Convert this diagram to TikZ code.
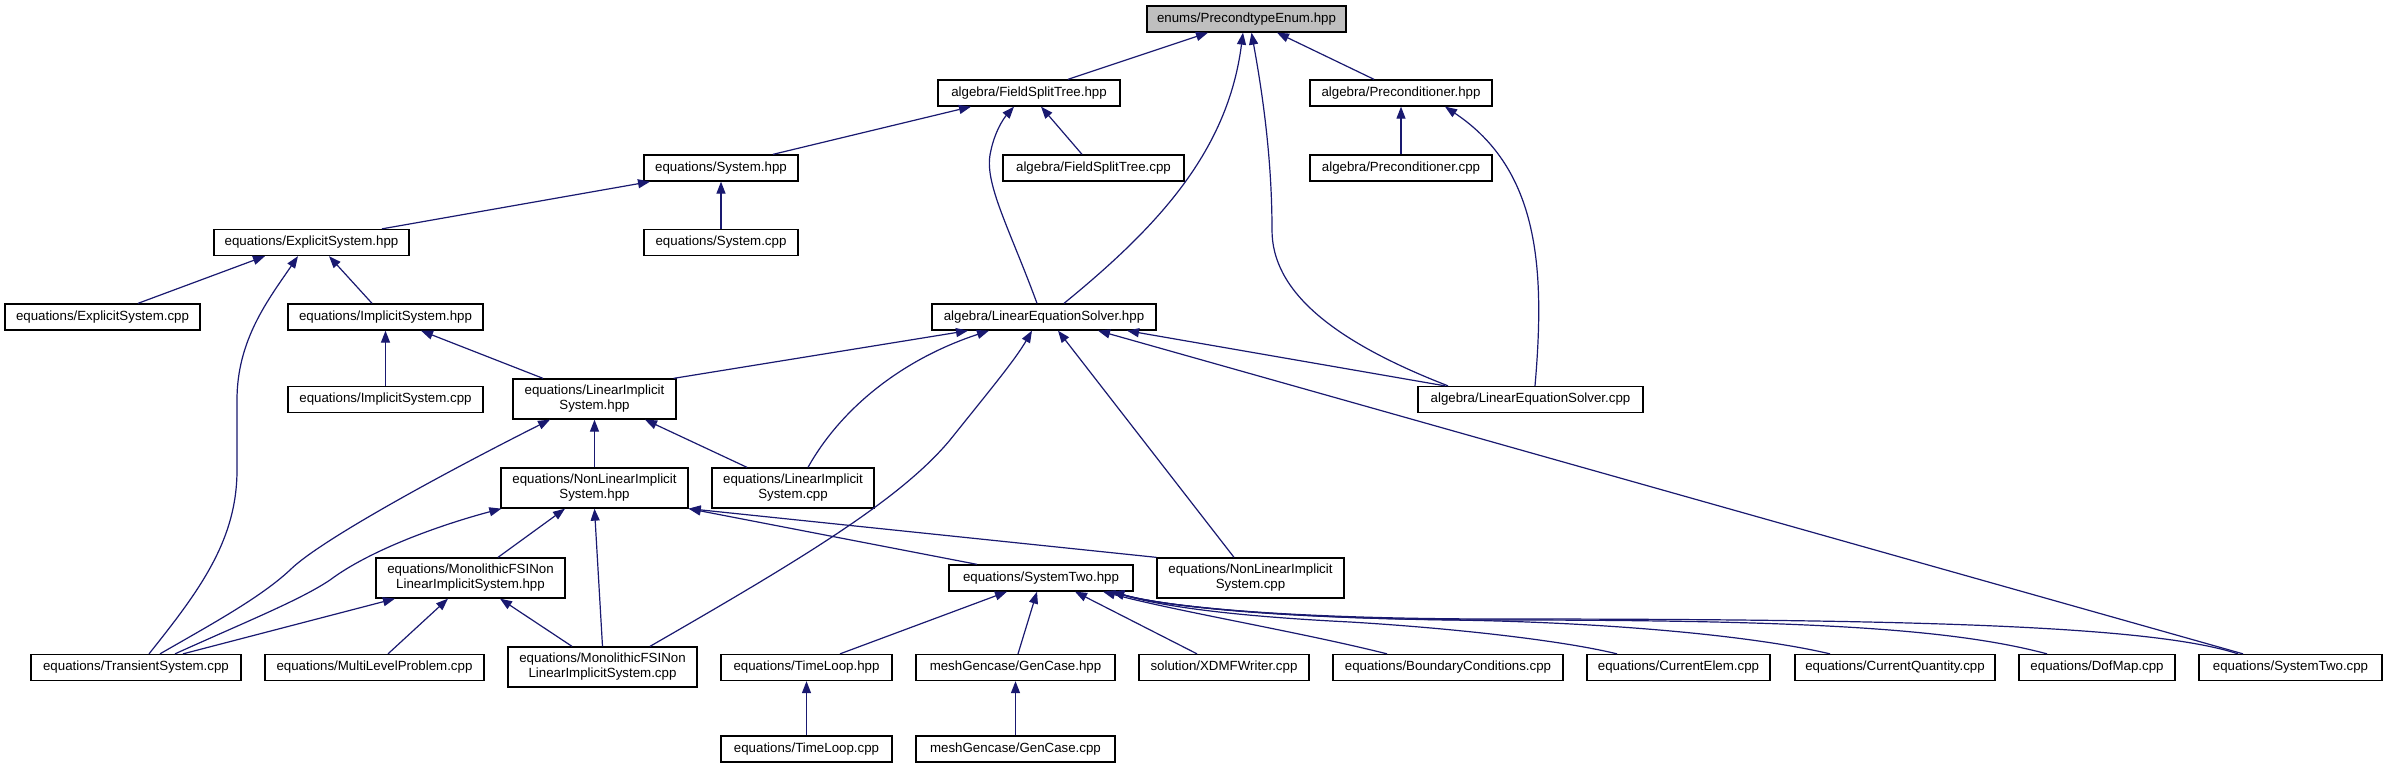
\documentclass[tikz,border=0pt]{standalone}
\usepackage{fontspec}
\setmainfont{Liberation Sans}
\usetikzlibrary{arrows.meta}
\definecolor{edgec}{RGB}{25,25,112}
\definecolor{rootfill}{RGB}{191,191,191}
\begin{document}
\begin{tikzpicture}[x=1pt,y=-1pt,
  nbox/.style={draw=black, line width=1.3pt, fill=white, inner sep=0pt,
    minimum height=26pt, font=\fontsize{13.3}{15}\selectfont, align=center},
  tall/.style={minimum height=40pt},
  dep/.style={draw=edgec, line width=1.2pt, -{Triangle[length=12pt,width=9pt]}}]
\useasboundingbox[fill=white] (0,0) rectangle (2387,768);

% rank 0
\node[nbox, fill=rootfill, minimum width=199pt] (penum) at (1246.5,19) {enums/PrecondtypeEnum.hpp};
% rank 1
\node[nbox, minimum width=182pt] (fsth) at (1029,93) {algebra/FieldSplitTree.hpp};
\node[nbox, minimum width=182pt] (prech) at (1401,93) {algebra/Preconditioner.hpp};
% rank 2
\node[nbox, minimum width=154pt] (sysh) at (721,168) {equations/System.hpp};
\node[nbox, minimum width=181pt] (fstc) at (1093.5,168) {algebra/FieldSplitTree.cpp};
\node[nbox, minimum width=182pt] (precc) at (1401,168) {algebra/Preconditioner.cpp};
% rank 3
\node[nbox, minimum width=195pt] (exph) at (311.5,242.5) {equations/ExplicitSystem.hpp};
\node[nbox, minimum width=154pt] (sysc) at (721,242.5) {equations/System.cpp};
% rank 4
\node[nbox, minimum width=195pt] (expc) at (102.5,317) {equations/ExplicitSystem.cpp};
\node[nbox, minimum width=195pt] (imph) at (385.5,317) {equations/ImplicitSystem.hpp};
\node[nbox, minimum width=224pt] (lesh) at (1044,317) {algebra/LinearEquationSolver.hpp};
% rank 5
\node[nbox, minimum width=195pt] (impc) at (385.5,399.5) {equations/ImplicitSystem.cpp};
\node[nbox, tall, minimum width=163pt] (lish) at (594.5,399) {equations/LinearImplicit\\System.hpp};
\node[nbox, minimum width=225pt] (lesc) at (1530.5,399.5) {algebra/LinearEquationSolver.cpp};
% rank 6
\node[nbox, tall, minimum width=187pt] (nlish) at (594.5,488) {equations/NonLinearImplicit\\System.hpp};
\node[nbox, tall, minimum width=162pt] (lisc) at (793,488) {equations/LinearImplicit\\System.cpp};
% rank 7
\node[nbox, tall, minimum width=189pt] (mfsih) at (470.5,578) {equations/MonolithicFSINon\\LinearImplicitSystem.hpp};
\node[nbox, minimum width=184pt] (st2h) at (1041,578) {equations/SystemTwo.hpp};
\node[nbox, tall, minimum width=187pt] (nlisc) at (1250.5,578) {equations/NonLinearImplicit\\System.cpp};
% rank 8
\node[nbox, minimum width=210pt] (tsc) at (136,667.5) {equations/TransientSystem.cpp};
\node[nbox, minimum width=219pt] (mlpc) at (374.5,667.5) {equations/MultiLevelProblem.cpp};
\node[nbox, tall, minimum width=189pt] (mfsic) at (602.5,667) {equations/MonolithicFSINon\\LinearImplicitSystem.cpp};
\node[nbox, minimum width=171pt] (tlh) at (806.5,667.5) {equations/TimeLoop.hpp};
\node[nbox, minimum width=199pt] (gch) at (1015.5,667.5) {meshGencase/GenCase.hpp};
\node[nbox, minimum width=170pt] (xdmf) at (1224,667.5) {solution/XDMFWriter.cpp};
\node[nbox, minimum width=230pt] (bc) at (1448,667.5) {equations/BoundaryConditions.cpp};
\node[nbox, minimum width=183pt] (ce) at (1678.5,667.5) {equations/CurrentElem.cpp};
\node[nbox, minimum width=200pt] (cq) at (1895,667.5) {equations/CurrentQuantity.cpp};
\node[nbox, minimum width=156pt] (dof) at (2097,667.5) {equations/DofMap.cpp};
\node[nbox, minimum width=183pt] (st2c) at (2290.5,667.5) {equations/SystemTwo.cpp};
% rank 9
\node[nbox, minimum width=171pt] (tlc) at (806.5,749) {equations/TimeLoop.cpp};
\node[nbox, minimum width=199pt] (gcc) at (1015.5,749) {meshGencase/GenCase.cpp};

% edges into PrecondtypeEnum
\draw[dep] ([xshift=39pt]fsth.north) -- ([xshift=-38.5pt]penum.south);
\draw[dep] ([xshift=20pt]lesh.north) .. controls (1160,225) and (1228,150) .. ([xshift=-3.5pt]penum.south);
\draw[dep] ([xshift=-82.5pt]lesc.north) .. controls (1330,340) and (1272,290) .. (1272,230) .. controls (1272,150) and (1260,80) .. ([xshift=5pt]penum.south);
\draw[dep] ([xshift=-27pt]prech.north) -- ([xshift=30.5pt]penum.south);
% FieldSplitTree.hpp
\draw[dep] ([xshift=52pt]sysh.north) -- ([xshift=-58pt]fsth.south);
\draw[dep] ([xshift=-11.5pt]fstc.north) -- ([xshift=12pt]fsth.south);
\draw[dep] ([xshift=-7pt]lesh.north) .. controls (1010,230) and (985,185) .. (990,155) .. controls (994,132) and (1004,118) .. ([xshift=-15pt]fsth.south);
% Preconditioner.hpp
\draw[dep] (precc) -- (prech);
\draw[dep] ([xshift=4.5pt]lesc.north) .. controls (1545,270) and (1540,170) .. ([xshift=44pt]prech.south);
% System.hpp
\draw[dep] ([xshift=70.5pt]exph.north) -- ([xshift=-71pt]sysh.south);
\draw[dep] (sysc) -- (sysh);
% ExplicitSystem.hpp
\draw[dep] ([xshift=35.5pt]expc.north) -- ([xshift=-46.5pt]exph.south);
\draw[dep] ([xshift=13pt]tsc.north) .. controls (200,590) and (237,540) .. (237,470) -- (237,400) .. controls (237,340) and (268,300) .. ([xshift=-13.5pt]exph.south);
\draw[dep] ([xshift=-13.5pt]imph.north) -- ([xshift=17.5pt]exph.south);
% ImplicitSystem.hpp
\draw[dep] (impc) -- (imph);
\draw[dep] ([xshift=-51.5pt]lish.north) -- ([xshift=35.5pt]imph.south);
% LinearEquationSolver.hpp
\draw[dep] ([xshift=-3pt]lish.north east) -- ([xshift=-76pt]lesh.south);
\draw[dep] ([xshift=15pt]lisc.north) .. controls (840,410) and (900,360) .. ([xshift=-55pt]lesh.south);
\draw[dep] ([xshift=47.5pt]mfsic.north) .. controls (800,560) and (900,500) .. (950,440) .. controls (990,390) and (1015,360) .. ([xshift=-12pt]lesh.south);
\draw[dep] ([xshift=-16.5pt]nlisc.north) -- ([xshift=14pt]lesh.south);
\draw[dep] ([xshift=-85.5pt]lesc.north) -- ([xshift=83pt]lesh.south);
\draw[dep] ([xshift=-47.5pt]st2c.north) -- ([xshift=54pt]lesh.south);
% LinearImplicitSystem.hpp
\draw[dep] (nlish) -- (lish);
\draw[dep] ([xshift=-46pt]lisc.north) -- ([xshift=50.5pt]lish.south);
\draw[dep] ([xshift=24pt]tsc.north) .. controls (210,625) and (260,598) .. (290,570) .. controls (320,540) and (450,470) .. ([xshift=-44.5pt]lish.south);
% NonLinearImplicitSystem.hpp
\draw[dep] ([xshift=27.5pt]mfsih.north) -- ([xshift=-29.5pt]nlish.south);
\draw[dep] (mfsic.north) -- (nlish.south);
\draw[dep] ([xshift=39pt]tsc.north) .. controls (250,620) and (300,600) .. (330,580) .. controls (370,550) and (440,525) .. ([xshift=1pt]nlish.south west);
\draw[dep] ([xshift=-64pt]st2h.north) -- (nlish.south east);
\draw[dep] (nlisc.north west) -- (nlish.south east);
% MonolithicFSI hpp
\draw[dep] ([xshift=47pt]tsc.north) -- ([xshift=-75.5pt]mfsih.south);
\draw[dep] ([xshift=13.5pt]mlpc.north) -- ([xshift=-22.5pt]mfsih.south);
\draw[dep] ([xshift=-30.5pt]mfsic.north) -- ([xshift=29.5pt]mfsih.south);
% SystemTwo.hpp
\draw[dep] ([xshift=33.5pt]tlh.north) -- ([xshift=-34pt]st2h.south);
\draw[dep] ([xshift=2.5pt]gch.north) -- ([xshift=-4pt]st2h.south);
\draw[dep] ([xshift=-27pt]xdmf.north) -- ([xshift=34pt]st2h.south);
\draw[dep] ([xshift=-61pt]bc.north) .. controls (1300,632) and (1180,612) .. ([xshift=62pt]st2h.south);
\draw[dep] ([xshift=-61.5pt]ce.north) .. controls (1560,640) and (1450,628) .. (1350,622) .. controls (1230,616) and (1160,606) .. ([xshift=71pt]st2h.south);
\draw[dep] ([xshift=-65pt]cq.north) .. controls (1750,635) and (1600,622) .. (1450,620) .. controls (1300,618) and (1170,608) .. ([xshift=71pt]st2h.south);
\draw[dep] ([xshift=-50pt]dof.north) .. controls (1950,628) and (1800,620) .. (1500,620) .. controls (1300,620) and (1170,608) .. ([xshift=71pt]st2h.south);
\draw[dep] ([xshift=-52.5pt]st2c.north) .. controls (2150,625) and (1900,619) .. (1500,619) .. controls (1300,619) and (1170,608) .. ([xshift=71pt]st2h.south);
% leaves
\draw[dep] (tlc) -- (tlh);
\draw[dep] (gcc) -- (gch);
\end{tikzpicture}
\end{document}
